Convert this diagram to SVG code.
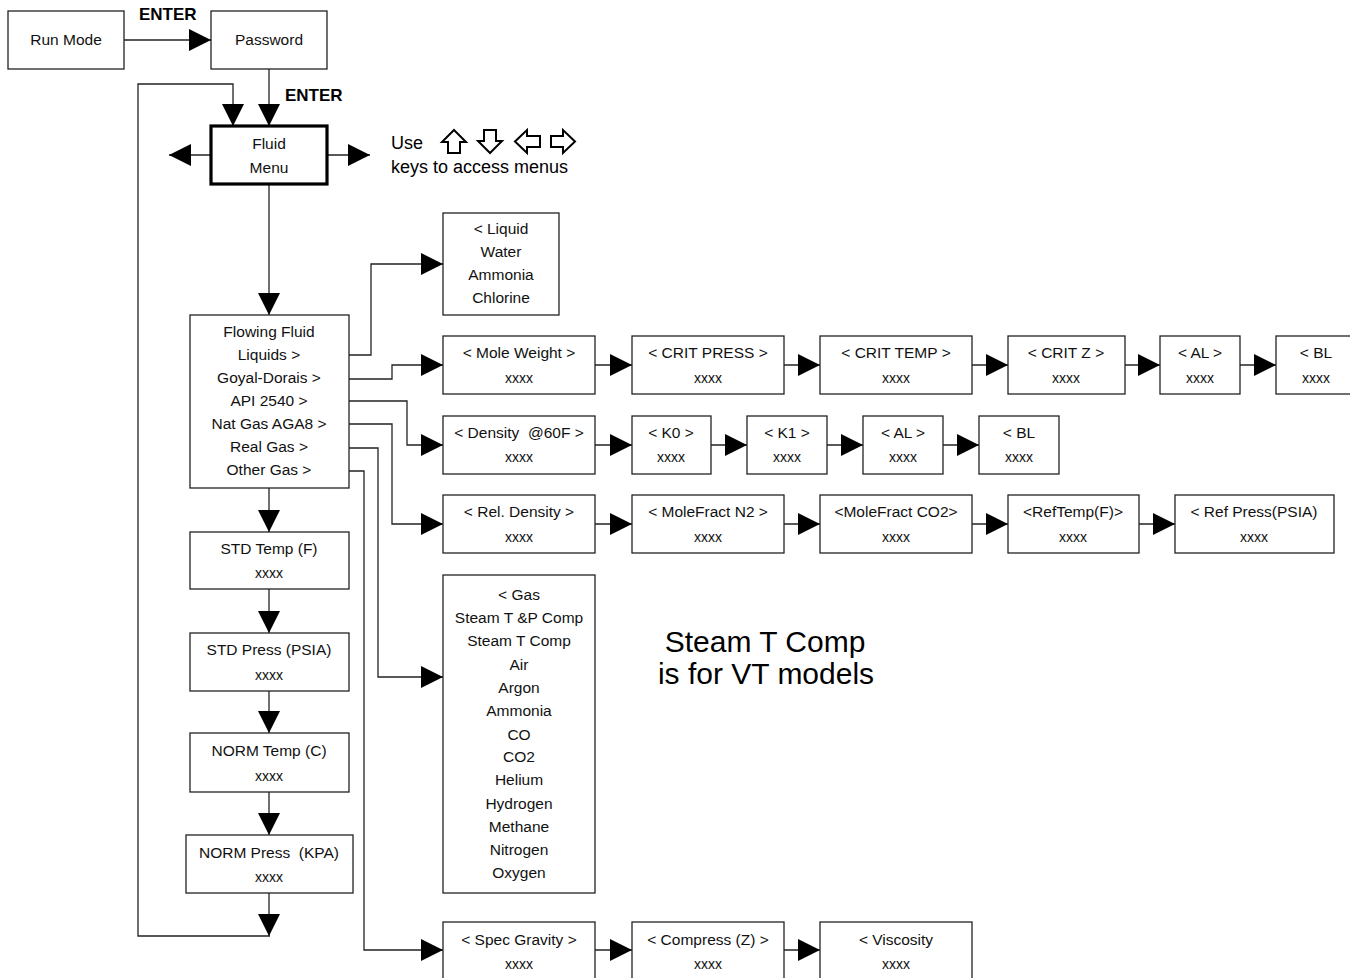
<svg xmlns="http://www.w3.org/2000/svg" width="1350" height="978" viewBox="0 0 1350 978">
<defs>
<style>
.b{fill:#fff;stroke:#222;stroke-width:1.3}
.bt{fill:#fff;stroke:#000;stroke-width:3.2}
.t{font-family:"Liberation Sans",Arial,sans-serif;font-size:15.5px;fill:#111;text-anchor:middle}
.x{font-family:"Liberation Sans",Arial,sans-serif;font-size:14px;fill:#111;text-anchor:middle}
.e{font-family:"Liberation Sans",Arial,sans-serif;font-size:17px;font-weight:bold;fill:#000}
.n{font-family:"Liberation Sans",Arial,sans-serif;font-size:18px;fill:#000}
.big{font-family:"Liberation Sans",Arial,sans-serif;font-size:30px;fill:#000;text-anchor:middle}
.c{fill:none;stroke:#222;stroke-width:1.3}
.ca{fill:none;stroke:#222;stroke-width:1.3;marker-end:url(#ah)}
.k{fill:#fff;stroke:#000;stroke-width:2;stroke-linejoin:miter}
</style>
<marker id="ah" markerUnits="userSpaceOnUse" markerWidth="22" markerHeight="22" refX="22" refY="11" orient="auto" viewBox="0 0 22 22">
<path d="M0,0 L22,11 L0,22 z" fill="#000"/>
</marker>
</defs>
<rect width="1350" height="978" fill="#fff"/>

<g id="connectors">
<path class="ca" d="M124,40 H211"/>
<path class="ca" d="M269,69 V126"/>
<path class="ca" d="M211,155 H169"/>
<path class="ca" d="M328,155 H370"/>
<path class="ca" d="M269,185 V315"/>
<path class="ca" d="M269,488 V532"/>
<path class="ca" d="M269,589 V633"/>
<path class="ca" d="M269,691 V733"/>
<path class="ca" d="M269,792 V835"/>
<path class="ca" d="M269,893 V936"/>
<path class="ca" d="M270,936 H138 V84 H233 V126"/>
<path class="ca" d="M349,355 H371 V264 H443"/>
<path class="ca" d="M349,379 H392 V365 H443"/>
<path class="ca" d="M349,401 H407 V445 H443"/>
<path class="ca" d="M349,424 H392 V524 H443"/>
<path class="ca" d="M349,448 H378 V677 H443"/>
<path class="ca" d="M349,471 H364 V950 H443"/>
<path class="ca" d="M595,365 H632"/>
<path class="ca" d="M784,365 H820"/>
<path class="ca" d="M972,365 H1008"/>
<path class="ca" d="M1125,365 H1160"/>
<path class="ca" d="M1240,365 H1276"/>
<path class="ca" d="M595,445 H632"/>
<path class="ca" d="M711,445 H747"/>
<path class="ca" d="M827,445 H863"/>
<path class="ca" d="M943,445 H979"/>
<path class="ca" d="M595,524 H632"/>
<path class="ca" d="M784,524 H820"/>
<path class="ca" d="M972,524 H1008"/>
<path class="ca" d="M1139,524 H1175"/>
<path class="ca" d="M595,950 H632"/>
<path class="ca" d="M784,950 H820"/>
</g>

<g id="label-enter1"><text class="e" x="139" y="20">ENTER</text></g>
<g id="label-enter2"><text class="e" x="285" y="101">ENTER</text></g>

<g id="run-mode"><rect class="b" x="8" y="11" width="116" height="58"/><text class="t" x="66" y="45">Run Mode</text></g>
<g id="password"><rect class="b" x="211" y="11" width="116" height="58"/><text class="t" x="269" y="45">Password</text></g>
<g id="fluid-menu"><rect class="bt" x="211" y="126" width="116" height="58"/><text class="t" x="269" y="149">Fluid</text><text class="t" x="269" y="173">Menu</text></g>

<g id="keys-note">
<text class="n" x="391" y="149">Use</text>
<polygon class="k" points="454,130 466,142 460,142 460,153 448,153 448,142 442,142"/>
<polygon class="k" points="490,153 478,141 484,141 484,130 496,130 496,141 502,141"/>
<polygon class="k" points="515,141.5 527,130 527,136 540,136 540,147 527,147 527,153"/>
<polygon class="k" points="575,141.5 563,130 563,136 551,136 551,147 563,147 563,153"/>
<text class="n" x="391" y="173">keys to access menus</text>
</g>

<g id="flowing-fluid"><rect class="b" x="190" y="315" width="159" height="173"/>
<text class="t" x="269" y="337">Flowing Fluid</text>
<text class="t" x="269" y="360">Liquids &gt;</text>
<text class="t" x="269" y="383">Goyal-Dorais &gt;</text>
<text class="t" x="269" y="406">API 2540 &gt;</text>
<text class="t" x="269" y="429">Nat Gas AGA8 &gt;</text>
<text class="t" x="269" y="452">Real Gas &gt;</text>
<text class="t" x="269" y="475">Other Gas &gt;</text>
</g>

<g id="std-temp"><rect class="b" x="190" y="532" width="159" height="57"/><text class="t" x="269" y="554">STD Temp (F)</text><text class="x" x="269" y="578">xxxx</text></g>
<g id="std-press"><rect class="b" x="190" y="633" width="159" height="58"/><text class="t" x="269" y="655">STD Press (PSIA)</text><text class="x" x="269" y="680">xxxx</text></g>
<g id="norm-temp"><rect class="b" x="190" y="733" width="159" height="59"/><text class="t" x="269" y="756">NORM Temp (C)</text><text class="x" x="269" y="781">xxxx</text></g>
<g id="norm-press"><rect class="b" x="186" y="835" width="167" height="58"/><text class="t" x="269" y="858" xml:space="preserve">NORM Press  (KPA)</text><text class="x" x="269" y="882">xxxx</text></g>

<g id="liquid"><rect class="b" x="443" y="213" width="116" height="102"/>
<text class="t" x="501" y="234">&lt; Liquid</text>
<text class="t" x="501" y="257">Water</text>
<text class="t" x="501" y="280">Ammonia</text>
<text class="t" x="501" y="303">Chlorine</text>
</g>

<g id="mole-weight"><rect class="b" x="443" y="336" width="152" height="58"/><text class="t" x="519" y="358">&lt; Mole Weight &gt;</text><text class="x" x="519" y="383">xxxx</text></g>
<g id="crit-press"><rect class="b" x="632" y="336" width="152" height="58"/><text class="t" x="708" y="358">&lt; CRIT PRESS &gt;</text><text class="x" x="708" y="383">xxxx</text></g>
<g id="crit-temp"><rect class="b" x="820" y="336" width="152" height="58"/><text class="t" x="896" y="358">&lt; CRIT TEMP &gt;</text><text class="x" x="896" y="383">xxxx</text></g>
<g id="crit-z"><rect class="b" x="1008" y="336" width="117" height="58"/><text class="t" x="1066" y="358">&lt; CRIT Z &gt;</text><text class="x" x="1066" y="383">xxxx</text></g>
<g id="al-1"><rect class="b" x="1160" y="336" width="80" height="58"/><text class="t" x="1200" y="358">&lt; AL &gt;</text><text class="x" x="1200" y="383">xxxx</text></g>
<g id="bl-1"><rect class="b" x="1276" y="336" width="80" height="58"/><text class="t" x="1316" y="358">&lt; BL</text><text class="x" x="1316" y="383">xxxx</text></g>

<g id="density"><rect class="b" x="443" y="416" width="152" height="58"/><text class="t" x="519" y="438" xml:space="preserve">&lt; Density  @60F &gt;</text><text class="x" x="519" y="462">xxxx</text></g>
<g id="k0"><rect class="b" x="632" y="416" width="79" height="58"/><text class="t" x="671" y="438">&lt; K0 &gt;</text><text class="x" x="671" y="462">xxxx</text></g>
<g id="k1"><rect class="b" x="747" y="416" width="80" height="58"/><text class="t" x="787" y="438">&lt; K1 &gt;</text><text class="x" x="787" y="462">xxxx</text></g>
<g id="al-2"><rect class="b" x="863" y="416" width="80" height="58"/><text class="t" x="903" y="438">&lt; AL &gt;</text><text class="x" x="903" y="462">xxxx</text></g>
<g id="bl-2"><rect class="b" x="979" y="416" width="80" height="58"/><text class="t" x="1019" y="438">&lt; BL</text><text class="x" x="1019" y="462">xxxx</text></g>

<g id="rel-density"><rect class="b" x="443" y="495" width="152" height="58"/><text class="t" x="519" y="517">&lt; Rel. Density &gt;</text><text class="x" x="519" y="542">xxxx</text></g>
<g id="molefract-n2"><rect class="b" x="632" y="495" width="152" height="58"/><text class="t" x="708" y="517">&lt; MoleFract N2 &gt;</text><text class="x" x="708" y="542">xxxx</text></g>
<g id="molefract-co2"><rect class="b" x="820" y="495" width="152" height="58"/><text class="t" x="896" y="517">&lt;MoleFract CO2&gt;</text><text class="x" x="896" y="542">xxxx</text></g>
<g id="reftemp"><rect class="b" x="1008" y="495" width="131" height="58"/><text class="t" x="1073" y="517">&lt;RefTemp(F)&gt;</text><text class="x" x="1073" y="542">xxxx</text></g>
<g id="refpress"><rect class="b" x="1175" y="495" width="159" height="58"/><text class="t" x="1254" y="517">&lt; Ref Press(PSIA)</text><text class="x" x="1254" y="542">xxxx</text></g>

<g id="gas"><rect class="b" x="443" y="575" width="152" height="318"/>
<text class="t" x="519" y="600">&lt; Gas</text>
<text class="t" x="519" y="623">Steam T &amp;P Comp</text>
<text class="t" x="519" y="646">Steam T Comp</text>
<text class="t" x="519" y="670">Air</text>
<text class="t" x="519" y="693">Argon</text>
<text class="t" x="519" y="716">Ammonia</text>
<text class="t" x="519" y="740">CO</text>
<text class="t" x="519" y="762">CO2</text>
<text class="t" x="519" y="785">Helium</text>
<text class="t" x="519" y="809">Hydrogen</text>
<text class="t" x="519" y="832">Methane</text>
<text class="t" x="519" y="855">Nitrogen</text>
<text class="t" x="519" y="878">Oxygen</text>
</g>

<g id="note"><text class="big" x="765" y="652">Steam T Comp</text><text class="big" x="766" y="684">is for VT models</text></g>

<g id="spec-gravity"><rect class="b" x="443" y="922" width="152" height="60"/><text class="t" x="519" y="945">&lt; Spec Gravity &gt;</text><text class="x" x="519" y="969">xxxx</text></g>
<g id="compress"><rect class="b" x="632" y="922" width="152" height="60"/><text class="t" x="708" y="945">&lt; Compress (Z) &gt;</text><text class="x" x="708" y="969">xxxx</text></g>
<g id="viscosity"><rect class="b" x="820" y="922" width="152" height="60"/><text class="t" x="896" y="945">&lt; Viscosity</text><text class="x" x="896" y="969">xxxx</text></g>
</svg>
